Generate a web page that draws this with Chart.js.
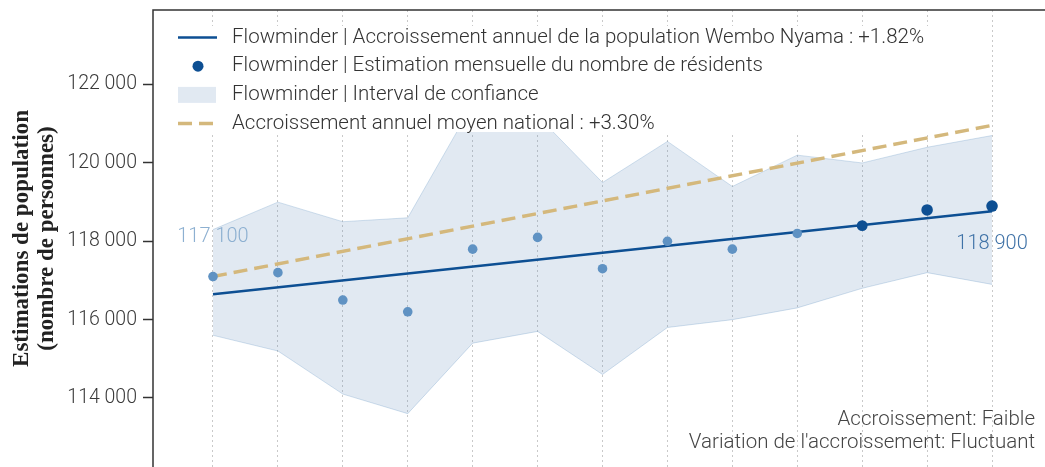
<!DOCTYPE html>
<html lang="fr">
<head>
<meta charset="utf-8">
<script src="https://cdn.jsdelivr.net/npm/chart.js@4"></script>
<style>
  html, body { margin: 0; padding: 0; background: #fff; }
  #wrap { width: 1045px; height: 467px; }
</style>
</head>
<body>
<div id="wrap"><canvas id="croissance" width="1045" height="467"></canvas></div>
<script>
// Mois (index), estimations mensuelles et intervalle de confiance
const mois = [0, 1, 2, 3, 4, 5, 6, 7, 8, 9, 10, 11, 12];
const estimations = [117100, 117200, 116500, 116200, 117800, 118100, 117300, 118000, 117800, 118200, 118400, 118800, 118900];
const borneHaute = [118300, 119000, 118500, 118600, 121500, 121200, 119500, 120550, 119400, 120200, 120000, 120400, 120700];
const borneBasse = [115600, 115200, 114100, 113600, 115400, 115700, 114600, 115800, 116000, 116300, 116800, 117200, 116900];
// Droites d'accroissement : valeur au premier et au dernier mois
const tendanceLocale = [116650, 118770];
const tendanceNationale = [117100, 120960];
const graduationsY = [114000, 116000, 118000, 120000, 122000];

const legendeTextes = [
  'Flowminder | Accroissement annuel de la population Wembo Nyama : +1.82%',
  'Flowminder | Estimation mensuelle du nombre de résidents',
  'Flowminder | Interval de confiance',
  'Accroissement annuel moyen national : +3.30%'
];
const noteTextes = ['Accroissement: Faible', "Variation de l'accroissement: Fluctuant"];

const BLEU = '#0d4f93';
const BLEU_CLAIR = '#5f92c3';
const BANDE = 'rgba(75, 125, 175, 0.17)';
const BANDE_BORD = 'rgba(110, 155, 200, 0.3)';
const OR = '#d4b87c';
const POLICE = '300 20.5px Roboto';

function fmt(v) {
  return String(Math.round(v)).replace(/\B(?=(\d{3})+(?!\d))/g, ' ');
}
const pts = arr => arr.map((y, i) => ({ x: mois[i], y: y }));
const droite = arr => [{ x: mois[0], y: arr[0] }, { x: mois[mois.length - 1], y: arr[1] }];

// cadre haut + gauche
const cadre = {
  id: 'cadre',
  afterDraw(chart) {
    const { ctx, chartArea: a } = chart;
    ctx.save();
    ctx.strokeStyle = '#333';
    ctx.lineWidth = 1.5;
    ctx.beginPath();
    ctx.moveTo(a.left, a.bottom);
    ctx.lineTo(a.left, a.top);
    ctx.lineTo(a.right, a.top);
    ctx.stroke();
    ctx.restore();
  }
};

// valeurs du premier et du dernier mois
const etiquettes = {
  id: 'etiquettes',
  afterDatasetsDraw(chart) {
    const { ctx } = chart;
    const meta = chart.getDatasetMeta(0);
    const n = estimations.length - 1;
    const p0 = meta.data[0], pn = meta.data[n];
    ctx.save();
    ctx.font = '300 20px Roboto';
    ctx.textAlign = 'center';
    ctx.textBaseline = 'middle';
    ctx.fillStyle = '#8db0d1';
    ctx.fillText(fmt(estimations[0]), p0.x, p0.y - 40);
    ctx.fillStyle = '#3f72a7';
    ctx.fillText(fmt(estimations[n]), pn.x, pn.y + 38);
    ctx.restore();
  }
};

// légende dans le cadre, fond blanc
const legende = {
  id: 'legende',
  afterDatasetsDraw(chart) {
    const { ctx } = chart;
    const y0 = 37.5, pas = 28.7;
    ctx.save();
    ctx.fillStyle = '#fff';
    ctx.fillRect(166, 26, 780, 106);
    ctx.lineCap = 'butt';
    // ligne pleine
    ctx.strokeStyle = BLEU;
    ctx.lineWidth = 2.5;
    ctx.beginPath(); ctx.moveTo(178, y0); ctx.lineTo(217, y0); ctx.stroke();
    // point
    ctx.fillStyle = BLEU;
    ctx.beginPath(); ctx.arc(198, y0 + pas, 5.5, 0, Math.PI * 2); ctx.fill();
    // bande
    ctx.fillStyle = BANDE;
    ctx.fillRect(178, y0 + 2 * pas - 8, 38, 16);
    // tirets
    ctx.strokeStyle = OR;
    ctx.lineWidth = 3.5;
    ctx.setLineDash([14, 7]);
    ctx.beginPath(); ctx.moveTo(178, y0 + 3 * pas); ctx.lineTo(218, y0 + 3 * pas); ctx.stroke();
    ctx.setLineDash([]);
    ctx.font = POLICE;
    ctx.fillStyle = '#333';
    ctx.textBaseline = 'middle';
    legendeTextes.forEach((t, i) => ctx.fillText(t, 232, y0 + i * pas));
    ctx.restore();
  }
};

const note = {
  id: 'note',
  afterDraw(chart) {
    const { ctx } = chart;
    ctx.save();
    ctx.font = POLICE;
    ctx.fillStyle = '#444';
    ctx.textAlign = 'right';
    ctx.textBaseline = 'middle';
    ctx.fillText(noteTextes[0], 1035, 420);
    ctx.fillText(noteTextes[1], 1035, 442.5);
    ctx.restore();
  }
};

new Chart(document.getElementById('croissance'), {
  type: 'line',
  data: {
    datasets: [
      {
        label: legendeTextes[1],
        data: pts(estimations),
        showLine: false,
        pointRadius: c => c.dataIndex >= 11 ? 5.8 : (c.dataIndex === 10 ? 5.4 : 4.8),
        pointBackgroundColor: c => c.dataIndex >= 10 ? BLEU : BLEU_CLAIR,
        pointBorderWidth: 0,
        order: 0
      },
      {
        label: legendeTextes[0],
        data: droite(tendanceLocale),
        borderColor: BLEU,
        borderWidth: 2.5,
        pointRadius: 0,
        order: 1
      },
      {
        label: legendeTextes[3],
        data: droite(tendanceNationale),
        borderColor: OR,
        borderWidth: 3.5,
        borderDash: [14, 7],
        pointRadius: 0,
        order: 2
      },
      {
        label: 'borne basse',
        data: pts(borneBasse),
        borderColor: BANDE_BORD,
        borderWidth: 1,
        pointRadius: 0,
        fill: false,
        order: 4
      },
      {
        label: legendeTextes[2],
        data: pts(borneHaute),
        borderColor: BANDE_BORD,
        borderWidth: 1,
        backgroundColor: BANDE,
        pointRadius: 0,
        fill: '-1',
        order: 3
      }
    ]
  },
  options: {
    responsive: false,
    animation: false,
    layout: { autoPadding: false, padding: { top: 10, left: 0, right: 0, bottom: 0 } },
    plugins: {
      legend: { display: false },
      tooltip: { enabled: false }
    },
    scales: {
      x: {
        type: 'linear',
        min: -0.924,
        max: 12.816,
        afterBuildTicks: s => { s.ticks = mois.map(v => ({ value: v })); },
        afterFit: s => { s.height = 0; s.paddingLeft = 0; s.paddingRight = 0; },
        ticks: { display: false },
        grid: { color: '#c9c9c9', lineWidth: 1, drawTicks: false },
        border: { display: false, dash: [2, 3] }
      },
      y: {
        min: 112238,
        max: 123905,
        afterBuildTicks: s => { s.ticks = graduationsY.map(v => ({ value: v })); },
        afterFit: s => { s.width = 153; s.paddingTop = 0; s.paddingBottom = 0; },
        ticks: {
          callback: v => fmt(v),
          font: { family: 'Roboto', size: 19.5, weight: 300 },
          color: '#3a3a3a',
          padding: 6
        },
        grid: { drawOnChartArea: false, drawTicks: true, tickLength: 10, tickColor: '#333', tickWidth: 1.5 },
        border: { display: false },
        title: {
          display: true,
          text: ['Estimations de population', '(nombre de personnes)'],
          font: { family: 'Liberation Serif', size: 23, weight: 'bold', lineHeight: 1.1 },
          color: '#222',
          padding: { top: 9, bottom: 0 }
        }
      }
    }
  },
  plugins: [cadre, etiquettes, legende, note]
});
</script>
</body>
</html>
